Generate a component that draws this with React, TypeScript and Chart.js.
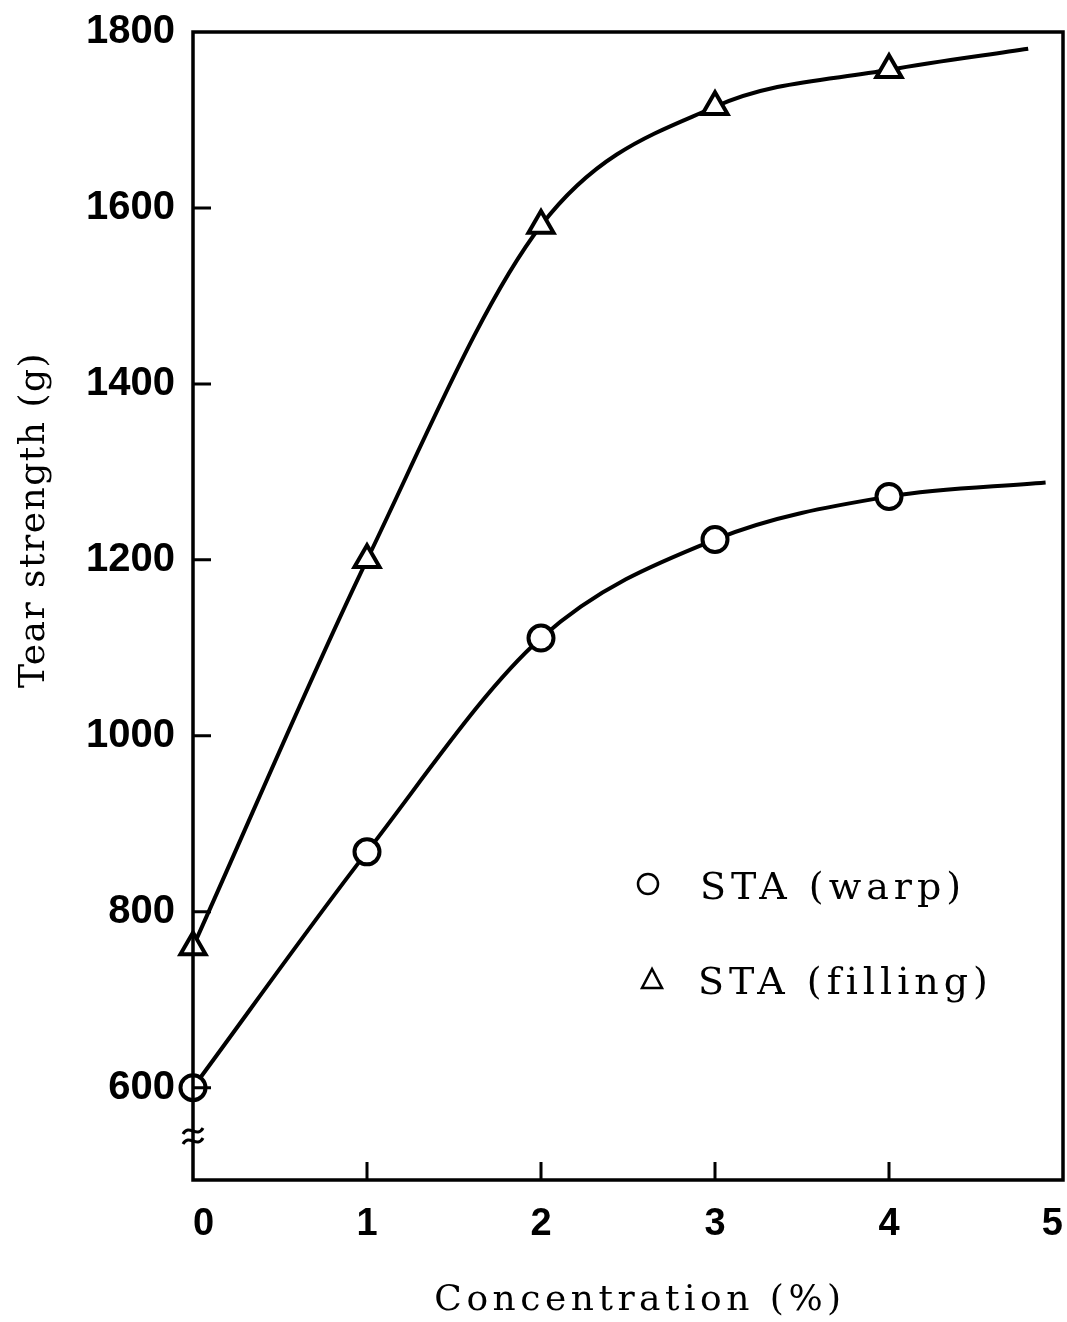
import React, { useEffect, useRef } from "react";
import { Chart, registerables } from "chart.js";

Chart.register(...registerables);

// ---- data ----
const xTickValues = [0, 1, 2, 3, 4, 5];
const yTickValues = [600, 800, 1000, 1200, 1400, 1600, 1800];
const warpX = [0, 1, 2, 3, 4, 4.9];
const warpY = [600, 868, 1111, 1223, 1272, 1288];
const fillingX = [0, 1, 2, 3, 4, 4.8];
const fillingY = [760, 1200, 1580, 1715, 1757, 1781];
const seriesLabels = ["STA (warp)", "STA (filling)"];
const xTitle = "Concentration (%)";
const yTitle = "Tear strength (g)";
const X_MIN = 0;
const X_MAX = 5;
const Y_MIN = 495;
const Y_MAX = 1800;
const BREAK_VALUE = 545;

const framePlugin = {
  id: "frame",
  afterDatasetsDraw(chart: any) {
    const { ctx, chartArea, scales } = chart;
    const { left, right, top, bottom } = chartArea;
    const x = scales.x;
    const y = scales.y;
    ctx.save();
    ctx.strokeStyle = "#000";
    ctx.lineWidth = 3.5;
    ctx.beginPath();
    ctx.rect(left, top, right - left, bottom - top);
    ctx.stroke();
    ctx.beginPath();
    for (const v of yTickValues) {
      if (v === Y_MAX) continue;
      const py = y.getPixelForValue(v);
      ctx.moveTo(left, py);
      ctx.lineTo(left + 18, py);
    }
    for (const v of xTickValues) {
      if (v === X_MIN || v === X_MAX) continue;
      const px = x.getPixelForValue(v);
      ctx.moveTo(px, bottom);
      ctx.lineTo(px, bottom - 18);
    }
    ctx.lineWidth = 3;
    ctx.stroke();
    // axis break mark
    const by = y.getPixelForValue(BREAK_VALUE);
    ctx.lineWidth = 3;
    for (const dy of [-5, 5]) {
      ctx.beginPath();
      ctx.moveTo(left - 10, by + dy + 3);
      ctx.bezierCurveTo(left - 4, by + dy - 8, left + 4, by + dy + 8, left + 10, by + dy - 3);
      ctx.stroke();
    }
    ctx.restore();
  },
};

const textPlugin = {
  id: "texts",
  afterDraw(chart: any) {
    const { ctx } = chart;
    ctx.save();
    ctx.fillStyle = "#000";
    ctx.strokeStyle = "#000";
    // legend
    const rows = [
      { style: "circle", label: seriesLabels[0], mx: 648, my: 884, tx: 700, ty: 899 },
      { style: "triangle", label: seriesLabels[1], mx: 652, my: 980, tx: 698, ty: 994 },
    ];
    for (const r of rows) {
      ctx.lineWidth = 2.5;
      ctx.beginPath();
      if (r.style === "circle") {
        ctx.arc(r.mx, r.my, 10, 0, Math.PI * 2);
      } else {
        ctx.moveTo(r.mx, r.my - 11);
        ctx.lineTo(r.mx - 10, r.my + 8);
        ctx.lineTo(r.mx + 10, r.my + 8);
        ctx.closePath();
      }
      ctx.stroke();
      ctx.font = '38px "DejaVu Serif"';
      (ctx as any).letterSpacing = "5px";
      ctx.textAlign = "left";
      ctx.textBaseline = "alphabetic";
      ctx.fillText(r.label, r.tx, r.ty);
    }
    // x title
    ctx.font = '36px "DejaVu Serif"';
    (ctx as any).letterSpacing = "4.5px";
    ctx.textAlign = "center";
    ctx.textBaseline = "alphabetic";
    ctx.fillText(xTitle, 640, 1310);
    // y title
    ctx.save();
    ctx.translate(35, 520);
    ctx.rotate(-Math.PI / 2);
    ctx.font = '36px "DejaVu Serif"';
    (ctx as any).letterSpacing = "1.5px";
    ctx.textAlign = "center";
    ctx.textBaseline = "middle";
    ctx.fillText(yTitle, 0, 0);
    ctx.restore();
    ctx.restore();
  },
};

export default function App() {
  const ref = useRef<HTMLCanvasElement>(null);
  useEffect(() => {
    const canvas = ref.current!;
    const mk = (xs: number[], ys: number[]) => xs.map((x, i) => ({ x, y: ys[i] }));
    const radii = (xs: number[], r: number) => xs.map((_, i) => (i === xs.length - 1 ? 0 : r));
    const chart = new Chart(canvas, {
      type: "line",
      data: {
        datasets: [
          {
            label: seriesLabels[0],
            data: mk(warpX, warpY),
            borderColor: "#000",
            borderWidth: 4,
            pointStyle: "circle",
            pointRadius: radii(warpX, 12.5),
            pointBorderWidth: 4,
            pointBackgroundColor: "#fff",
            pointBorderColor: "#000",
            cubicInterpolationMode: "monotone",
            clip: false,
          } as any,
          {
            label: seriesLabels[1],
            data: mk(fillingX, fillingY),
            borderColor: "#000",
            borderWidth: 4,
            pointStyle: "triangle",
            pointRadius: radii(fillingX, 14.5),
            pointBorderWidth: 4,
            pointBackgroundColor: "#fff",
            pointBorderColor: "#000",
            cubicInterpolationMode: "monotone",
            clip: false,
          } as any,
        ],
      },
      options: {
        responsive: false,
        animation: false,
        layout: { autoPadding: false, padding: { top: 32, right: 4, left: 0, bottom: 0 } },
        plugins: { legend: { display: false }, tooltip: { enabled: false } },
        scales: {
          x: {
            type: "linear",
            min: X_MIN,
            max: X_MAX,
            grid: { display: false },
            border: { display: false },
            ticks: {
              font: { family: "Liberation Sans", weight: "bold", size: 38 },
              color: "#000",
              padding: 14,
              maxRotation: 0,
              align: "inner",
              callback: (v: any) => String(v),
            },
            afterBuildTicks: (s: any) => {
              s.ticks = xTickValues.map((v) => ({ value: v }));
            },
            afterFit: (s: any) => {
              s.height = 142;
              s.paddingLeft = 0;
              s.paddingRight = 0;
            },
          },
          y: {
            type: "linear",
            min: Y_MIN,
            max: Y_MAX,
            grid: { display: false },
            border: { display: false },
            ticks: {
              font: { family: "Liberation Sans", weight: "bold", size: 40 },
              color: "#000",
              padding: 10,
              callback: (v: any) => String(v),
            },
            afterBuildTicks: (s: any) => {
              s.ticks = yTickValues.map((v) => ({ value: v }));
            },
            afterFit: (s: any) => {
              s.width = 193;
              s.paddingTop = 0;
              s.paddingBottom = 0;
            },
          },
        },
      } as any,
      plugins: [framePlugin, textPlugin],
    });
    return () => chart.destroy();
  }, []);
  return (
    <div style={{ position: "absolute", left: 0, top: 0, width: 1067, height: 1322, background: "#fff" }}>
      <canvas ref={ref} width={1067} height={1322} style={{ display: "block" }} />
    </div>
  );
}
